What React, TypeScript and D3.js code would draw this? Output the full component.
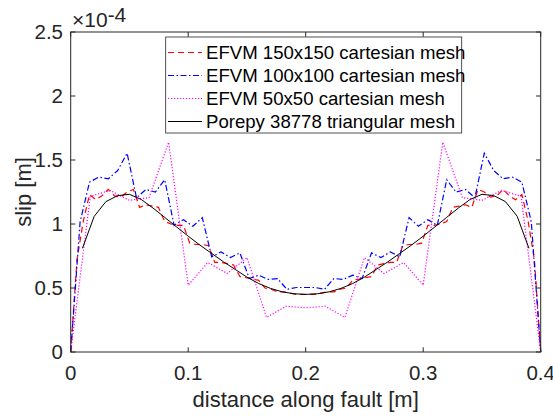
import React from "react";
import * as d3 from "d3";

// ---- data (slip in units of 1e-4 m) ----
const xTicks = [0, 0.1, 0.2, 0.3, 0.4];
const xTickLabels = ["0", "0.1", "0.2", "0.3", "0.4"];
const yTicks = [0, 0.5, 1, 1.5, 2, 2.5];
const yTickLabels = ["0", "0.5", "1", "1.5", "2", "2.5"];

const seriesNames = [
  "EFVM 150x150 cartesian mesh",
  "EFVM 100x100 cartesian mesh",
  "EFVM 50x50 cartesian mesh",
  "Porepy 38778 triangular mesh",
];

// EFVM 150x150: 76 nodes over [0, 0.4]
const efvm150 = [
  0, 0.72, 1.02, 1.23, 1.19, 1.22, 1.27, 1.22, 1.21, 1.25, 1.27, 1.13, 1.15, 1.14, 1.13, 1.02, 1.0, 0.99, 0.99,
  0.85, 0.84, 0.84, 0.83, 0.7, 0.7, 0.69, 0.68, 0.59, 0.58, 0.57, 0.56, 0.5, 0.49, 0.47, 0.47, 0.46, 0.45, 0.45,
  0.45, 0.45, 0.46, 0.47, 0.47, 0.49, 0.5, 0.56, 0.57, 0.58, 0.59, 0.68, 0.69, 0.7, 0.7, 0.83, 0.84, 0.84, 0.85,
  0.99, 0.99, 1.0, 1.02, 1.13, 1.14, 1.15, 1.13, 1.27, 1.25, 1.21, 1.22, 1.27, 1.22, 1.19, 1.23, 1.02, 0.72, 0,
];

// EFVM 100x100: 51 nodes over [0, 0.4]
const efvm100 = [
  0, 1.016, 1.327, 1.366, 1.353, 1.418, 1.553, 1.205, 1.27, 1.249, 1.346, 0.99, 1.034, 0.982, 1.05, 0.743, 0.782,
  0.738, 0.774, 0.574, 0.6, 0.567, 0.574, 0.49, 0.504, 0.504, 0.504, 0.49, 0.574, 0.567, 0.6, 0.574, 0.774, 0.738,
  0.782, 0.743, 1.05, 0.982, 1.034, 0.99, 1.346, 1.249, 1.27, 1.205, 1.553, 1.418, 1.353, 1.366, 1.327, 1.016, 0,
];

// EFVM 50x50: 25 nodes over [0, 0.4]
const efvm50 = [
  0, 1.216, 1.263, 1.185, 1.206, 1.639, 0.522, 0.699, 0.613, 0.738, 0.27, 0.358, 0.345, 0.358, 0.27, 0.738, 0.613,
  0.699, 0.522, 1.639, 1.206, 1.185, 1.263, 1.216, 0,
];

// Porepy: distance and slip
const porepyX = [
  0.01, 0.02, 0.03, 0.04, 0.05, 0.06, 0.07, 0.08, 0.09, 0.1, 0.11, 0.12, 0.13, 0.14, 0.15, 0.16, 0.17, 0.18, 0.19,
  0.2, 0.21, 0.22, 0.23, 0.24, 0.25, 0.26, 0.27, 0.28, 0.29, 0.3, 0.31, 0.32, 0.33, 0.34, 0.35, 0.36, 0.37, 0.38,
  0.39,
];
const porepyY = [
  0.81, 1.06, 1.175, 1.222, 1.232, 1.192, 1.125, 1.052, 0.978, 0.905, 0.835, 0.77, 0.705, 0.645, 0.585, 0.535, 0.497,
  0.47, 0.455, 0.45, 0.455, 0.47, 0.497, 0.535, 0.585, 0.645, 0.705, 0.77, 0.835, 0.905, 0.978, 1.052, 1.125, 1.192,
  1.232, 1.222, 1.175, 1.06, 0.81,
];

const FAULT_LENGTH = 0.4;

const W = 553;
const H = 416;
const L = 70.7;
const R = 540.7;
const T = 32;
const B = 352;
const AX = "#262626";
const FONT = "'Liberation Sans', Arial, Helvetica, sans-serif";

const x = d3.scaleLinear().domain([0, 0.4]).range([L, R]);
const y = d3.scaleLinear().domain([0, 2.5]).range([B, T]);

const line = d3
  .line<[number, number]>()
  .x((d) => x(d[0]))
  .y((d) => y(d[1]));

function grid(vals: number[]): [number, number][] {
  const n = vals.length - 1;
  return vals.map((v, i) => [(i * FAULT_LENGTH) / n, v]);
}

const styles = [
  { color: "#ff0000", dash: "6,4", width: 1.2 },
  { color: "#0000ff", dash: "6,2.5,1.5,2.5", width: 1.2 },
  { color: "#ff00ff", dash: "1.2,1.8", width: 1.2 },
  { color: "#000000", dash: "none", width: 1 },
];

export default function App() {
  const data: [number, number][][] = [
    grid(efvm150),
    grid(efvm100),
    grid(efvm50),
    porepyX.map((d, i) => [d, porepyY[i]] as [number, number]),
  ];
  const tick = 4.7;
  const legX = 165.7;
  const legY = 37;
  const legW = 296;
  const legH = 96;
  const rowY = [52.5, 75.5, 98.5, 121.5];
  return (
    <svg
      width={W}
      height={H}
      style={{ position: "absolute", left: 0, top: 0, background: "#fff" }}
      fontFamily={FONT}
    >
      <rect x={0} y={0} width={W} height={H} fill="#fff" />
      {/* series */}
      {data.map((d, i) => (
        <path
          key={i}
          d={line(d) || ""}
          fill="none"
          stroke={styles[i].color}
          strokeWidth={styles[i].width}
          strokeDasharray={styles[i].dash}
        />
      ))}
      {/* box */}
      <rect x={L} y={T} width={R - L} height={B - T} fill="none" stroke={AX} strokeWidth={1} />
      {xTicks.map((t, i) => (
        <g key={"xt" + i}>
          <line x1={x(t)} x2={x(t)} y1={B} y2={B - tick} stroke={AX} />
          <line x1={x(t)} x2={x(t)} y1={T} y2={T + tick} stroke={AX} />
          <text x={x(t)} y={380} fontSize={20.5} textAnchor="middle" fill={AX}>
            {xTickLabels[i]}
          </text>
        </g>
      ))}
      {yTicks.map((t, i) => (
        <g key={"yt" + i}>
          <line x1={L} x2={L + tick} y1={y(t)} y2={y(t)} stroke={AX} />
          <line x1={R} x2={R - tick} y1={y(t)} y2={y(t)} stroke={AX} />
          <text x={63} y={y(t) + 7.2} fontSize={20.5} textAnchor="end" fill={AX}>
            {yTickLabels[i]}
          </text>
        </g>
      ))}
      {/* exponent */}
      <text x={72} y={26.7} fontSize={21} fill={AX}>
        ×10
        <tspan fontSize={21} dy={-5}>
          -4
        </tspan>
      </text>
      {/* axis labels */}
      <text x={(L + R) / 2} y={407.3} fontSize={22} textAnchor="middle" fill={AX}>
        distance along fault [m]
      </text>
      <text
        transform={`translate(31,192) rotate(-90)`}
        fontSize={22}
        textAnchor="middle"
        fill={AX}
      >
        slip [m]
      </text>
      {/* legend */}
      <rect x={legX} y={legY} width={legW} height={legH} fill="#fff" stroke={AX} strokeWidth={0.8} />
      {seriesNames.map((name, i) => (
        <g key={"lg" + i}>
          <line
            x1={168}
            x2={202}
            y1={rowY[i]}
            y2={rowY[i]}
            stroke={styles[i].color}
            strokeWidth={styles[i].width}
            strokeDasharray={styles[i].dash}
          />
          <text x={206} y={rowY[i] + 6.6} fontSize={18.6} fill="#000">
            {name}
          </text>
        </g>
      ))}
    </svg>
  );
}
